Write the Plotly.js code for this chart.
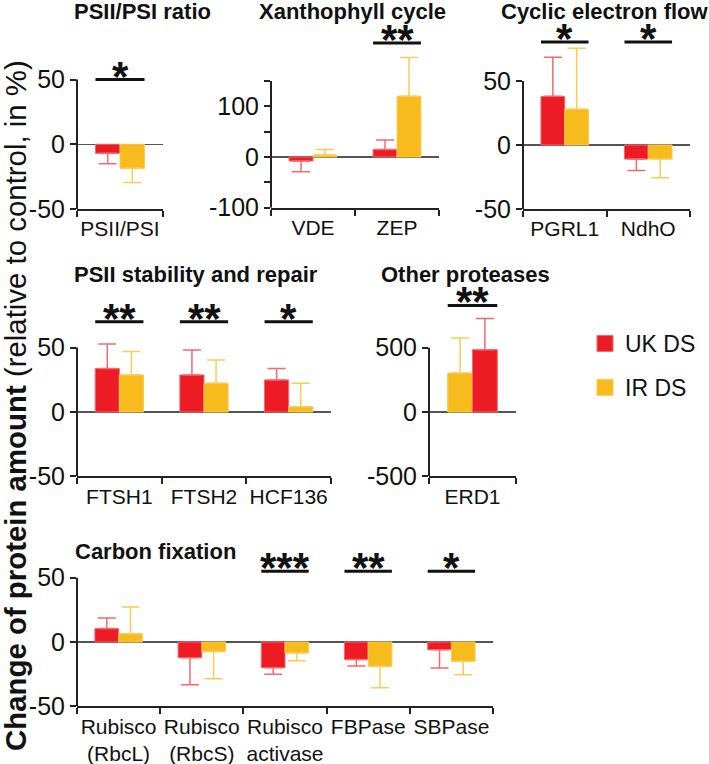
<!DOCTYPE html>
<html>
<head>
<meta charset="utf-8">
<script src="https://cdn.plot.ly/plotly-3.0.1.min.js"></script>
<style>html,body{margin:0;padding:0;background:#fff;}#chart{width:709px;height:764px;}</style>
</head>
<body>
<div id="chart"></div>
<script>
// ---------- data ----------
const seriesNames = ['UK DS', 'IR DS'];

const cats1 = ['PSII/PSI'];
const uk1 = [-7];
const ukErr1 = [8];
const ir1 = [-18.6];
const irErr1 = [11];

const cats2 = ['VDE', 'ZEP'];
const uk2 = [-8, 15];
const ukErr2 = [21, 18.5];
const ir2 = [4, 120];
const irErr2 = [11, 76];

const cats3 = ['PGRL1', 'NdhO'];
const uk3 = [38, -11];
const ukErr3 = [30.5, 9];
const ir3 = [28, -11];
const irErr3 = [47.5, 14.5];

const cats4 = ['FTSH1', 'FTSH2', 'HCF136'];
const uk4 = [33.7, 28.8, 24.9];
const ukErr4 = [19.2, 19.4, 8.8];
const ir4 = [28.8, 22.3, 4.1];
const irErr4 = [18.1, 18.1, 18.2];

const cats5 = ['ERD1'];
const uk5 = [485];
const ukErr5 = [243];
const ir5 = [303];
const irErr5 = [272];

const cats6 = ['Rubisco<br>(RbcL)', 'Rubisco<br>(RbcS)', 'Rubisco<br>activase', 'FBPase', 'SBPase'];
const uk6 = [10.4, -12.2, -20, -13.7, -6];
const ukErr6 = [8.3, 21, 5.1, 5, 14.2];
const ir6 = [6.5, -7.3, -8.5, -18.9, -15];
const irErr6 = [20.7, 21.2, 6, 16.6, 10.4];

const panelTitles = ['PSII/PSI ratio', 'Xanthophyll cycle', 'Cyclic electron flow',
                     'PSII stability and repair', 'Other proteases', 'Carbon fixation'];

// significance: [category, stars, level]
const sig1 = [['PSII/PSI', '*', 50]];
const sig2 = [['ZEP', '**', 225]];
const sig3 = [['PGRL1', '*', 80.5], ['NdhO', '*', 80.5]];
const sig4 = [['FTSH1', '**', 70], ['FTSH2', '**', 70], ['HCF136', '*', 70]];
const sig5 = [['ERD1', '**', 829]];
const sig6 = [['Rubisco<br>activase', '***', 55], ['FBPase', '**', 55], ['SBPase', '*', 55]];

const yTicks1 = [-50, 0, 50];
const yTicks2 = [-100, -50, 0, 50, 100, 150];
const yTickText2 = ['-100', '', '0', '', '100', ''];
const yTicks3 = [-50, 0, 50];
const yTicks4 = [-50, 0, 50];
const yTicks5 = [-500, 0, 500];
const yTicks6 = [-50, 0, 50];

// ---------- styling / layout ----------
const W = 709, H = 764;
const RED = '#ed1c24', YEL = '#f8bb1d';
const RED_L = '#f26a6f', YEL_L = '#fccb55';
const FONT = 'Liberation Sans, Arial, Helvetica, sans-serif';
const AX = '#222';

// panel boxes in px: [x0, x1, yTop, yBottom], y ranges
const panels = [
  {cats: cats1, uk: uk1, ukE: ukErr1, ir: ir1, irE: irErr1, sig: sig1, box: [77, 163, 66.6, 209], range: [-50, 60], tv: yTicks1, tt: null, title: [72, 12], irFirst: false},
  {cats: cats2, uk: uk2, ukE: ukErr2, ir: ir2, irE: irErr2, sig: sig2, box: [271, 439, 35.3, 207.7], range: [-100, 240], tv: yTicks2, tt: yTickText2, title: [257, 11], irFirst: false},
  {cats: cats3, uk: uk3, ukE: ukErr3, ir: ir3, irE: irErr3, sig: sig3, box: [523, 690, 29.8, 209], range: [-50, 90], tv: yTicks3, tt: null, title: [499, 11], irFirst: false},
  {cats: cats4, uk: uk4, ukE: ukErr4, ir: ir4, irE: irErr4, sig: sig4, box: [77, 331, 309, 476.3], range: [-50, 80], tv: yTicks4, tt: null, title: [72, 274], irFirst: false},
  {cats: cats5, uk: uk5, ukE: ukErr5, ir: ir5, irE: irErr5, sig: sig5, box: [429, 516, 296.3, 476.3], range: [-500, 900], tv: yTicks5, tt: null, title: [379, 274], irFirst: true},
  {cats: cats6, uk: uk6, ukE: ukErr6, ir: ir6, irE: irErr6, sig: sig6, box: [77, 493, 558.4, 706.3], range: [-50, 65], tv: yTicks6, tt: null, title: [73, 551], irFirst: false}
];

const GROUP_HALF = 0.285;
const traces = [];
const layout = {
  width: W, height: H,
  margin: {l: 0, r: 0, t: 0, b: 0},
  paper_bgcolor: '#fff', plot_bgcolor: 'rgba(0,0,0,0)',
  font: {family: FONT, color: '#111'},
  barmode: 'group', bargap: 0.43, bargroupgap: 0,
  showlegend: true,
  legend: {x: 585 / W, y: 1 - 322 / H, xanchor: 'left', yanchor: 'top',
           font: {size: 23, family: FONT, color: '#111'}, traceorder: 'grouped',
           tracegroupgap: 11, itemwidth: 30, bgcolor: 'rgba(0,0,0,0)'},
  shapes: [], annotations: []
};

function errArrays(vals, errs) {
  return {
    plus: vals.map((v, i) => v >= 0 ? errs[i] : 0),
    minus: vals.map((v, i) => v < 0 ? errs[i] : 0)
  };
}

function barTrace(name, cats, vals, errs, color, lcolor, xa, ya) {
  const e = errArrays(vals, errs);
  return {
    type: 'bar', name: name, x: cats, y: vals, xaxis: xa, yaxis: ya,
    showlegend: false,
    marker: {color: color, line: {color: lcolor, width: 1}},
    error_y: {type: 'data', symmetric: false, array: e.plus, arrayminus: e.minus,
              color: lcolor, thickness: 1.5, width: 9},
    hoverinfo: 'x+y+name'
  };
}

panels.forEach((p, k) => {
  const n = k + 1;
  const xa = 'x' + (n === 1 ? '' : n), ya = 'y' + (n === 1 ? '' : n);
  const xk = 'xaxis' + (n === 1 ? '' : n), yk = 'yaxis' + (n === 1 ? '' : n);
  const [x0, x1, yT, yB] = p.box;
  const ukT = barTrace(seriesNames[0], p.cats, p.uk, p.ukE, RED, RED_L, xa, ya);
  const irT = barTrace(seriesNames[1], p.cats, p.ir, p.irE, YEL, YEL_L, xa, ya);
  if (p.irFirst) { traces.push(irT, ukT); } else { traces.push(ukT, irT); }

  layout[xk] = {
    domain: [x0 / W, x1 / W], anchor: ya, type: 'category',
    categoryorder: 'array', categoryarray: p.cats,
    range: [-0.5, p.cats.length - 0.5],
    showline: true, linecolor: AX, linewidth: 2,
    ticks: 'outside', tickson: 'boundaries', ticklen: 6, tickwidth: 2, tickcolor: AX,
    tickangle: 0, automargin: false,
    tickfont: {size: 21, family: FONT, color: '#111'},
    showgrid: false, zeroline: false, fixedrange: true
  };
  layout[yk] = {
    domain: [1 - yB / H, 1 - yT / H], anchor: xa, range: p.range,
    showline: false, ticks: 'outside', ticklen: 6, tickwidth: 2, tickcolor: AX,
    tickmode: 'array', tickvals: p.tv, ticktext: p.tt ? p.tt : p.tv.map(String),
    tickfont: {size: 25, family: FONT, color: '#111'}, automargin: false,
    showgrid: false, zeroline: true, zerolinecolor: '#555', zerolinewidth: 1.5,
    fixedrange: true
  };
  // y axis line spanning the tick range only
  layout.shapes.push({type: 'line', xref: xa + ' domain', yref: ya,
    x0: 0, x1: 0, y0: p.tv[0], y1: p.tv[p.tv.length - 1],
    line: {color: AX, width: 2}});
  // significance bars + stars
  p.sig.forEach(s => {
    const idx = p.cats.indexOf(s[0]);
    layout.shapes.push({type: 'line', xref: xa, yref: ya,
      x0: idx - GROUP_HALF, x1: idx + GROUP_HALF, y0: s[2], y1: s[2],
      line: {color: '#111', width: 3}});
    layout.annotations.push({xref: xa, yref: ya, x: idx, y: s[2], text: '<b>' + s[1] + '</b>',
      showarrow: false, xanchor: 'center', yanchor: 'bottom', yshift: -22,
      font: {size: 42, family: FONT, color: '#111'}});
  });
  // panel title
  layout.annotations.push({xref: 'paper', yref: 'paper', x: p.title[0] / W, y: 1 - p.title[1] / H,
    xanchor: 'left', yanchor: 'middle', showarrow: false, text: '<b>' + panelTitles[k] + '</b>',
    font: {size: 22, family: FONT, color: '#111'}});
});

// legend entries
traces.push({type: 'scatter', mode: 'markers', name: seriesNames[0], x: [null], y: [null],
  xaxis: 'x5', yaxis: 'y5', legendgroup: 'uk',
  marker: {symbol: 'square', size: 18, color: RED, line: {color: RED_L, width: 1}}});
traces.push({type: 'scatter', mode: 'markers', name: seriesNames[1], x: [null], y: [null],
  xaxis: 'x5', yaxis: 'y5', legendgroup: 'ir',
  marker: {symbol: 'square', size: 18, color: YEL, line: {color: YEL_L, width: 1}}});

// overall y-axis title
layout.annotations.push({xref: 'paper', yref: 'paper', x: 15 / W, y: 1 - 406 / H,
  xanchor: 'center', yanchor: 'middle', textangle: -90, showarrow: false,
  text: '<b>Change of protein amount</b> (relative to control, in %)',
  font: {size: 29.4, family: FONT, color: '#111'}});

Plotly.newPlot('chart', traces, layout, {displayModeBar: false, staticPlot: true});
</script>
</body>
</html>
